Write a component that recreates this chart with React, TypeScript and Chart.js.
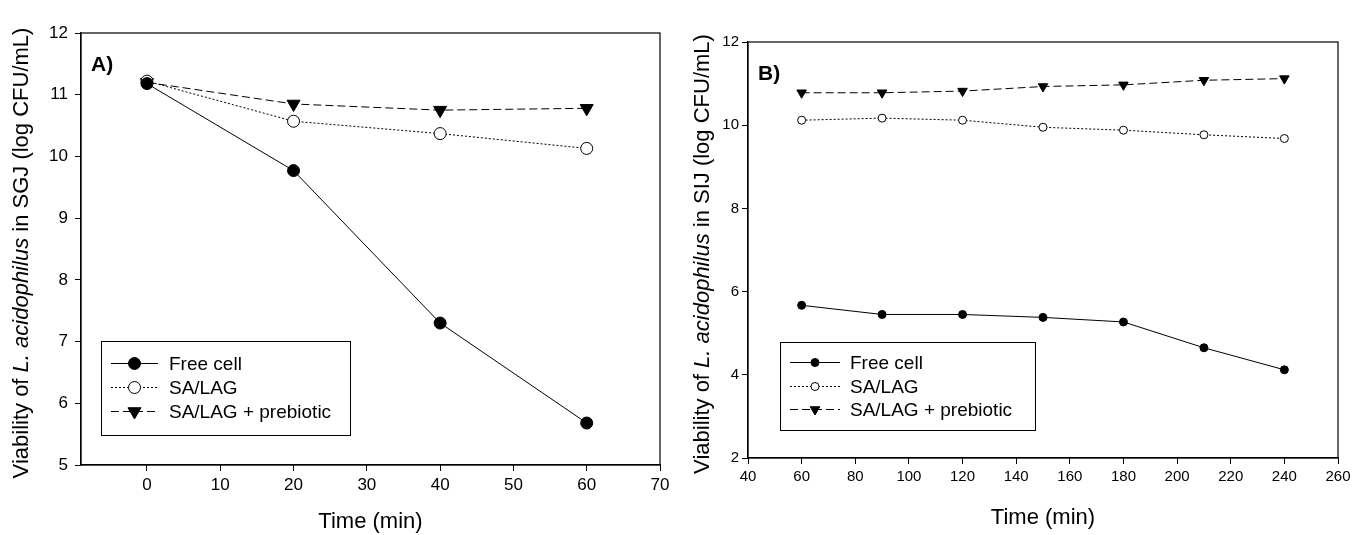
import React, { useEffect, useRef } from "react";
import { Chart, registerables } from "chart.js";

Chart.register(...registerables);

// ---------- data ----------
const seriesNames = ["Free cell", "SA/LAG", "SA/LAG + prebiotic"];

const timeA = [0, 20, 40, 60];
const freeCellA = [11.18, 9.77, 7.3, 5.68];
const saLagA = [11.22, 10.57, 10.37, 10.13];
const saLagPrebioticA = [11.2, 10.85, 10.75, 10.78];
const xTicksA = [0, 10, 20, 30, 40, 50, 60, 70];
const yTicksA = [5, 6, 7, 8, 9, 10, 11, 12];

const timeB = [60, 90, 120, 150, 180, 210, 240];
const freeCellB = [5.67, 5.45, 5.45, 5.38, 5.27, 4.65, 4.12];
const saLagB = [10.12, 10.17, 10.12, 9.95, 9.88, 9.77, 9.68];
const saLagPrebioticB = [10.78, 10.78, 10.82, 10.93, 10.97, 11.08, 11.12];
const xTicksB = [40, 60, 80, 100, 120, 140, 160, 180, 200, 220, 240, 260];
const yTicksB = [2, 4, 6, 8, 10, 12];

const W = 683;
const H = 535;
const FONT = "'Liberation Sans', Arial, sans-serif";

type Panel = {
  label: string;
  medium: string;
  time: number[];
  values: number[][];
  xTicks: number[];
  yTicks: number[];
  xMin: number;
  xMax: number;
  area: { left: number; right: number; top: number; bottom: number };
  tickSize: number;
  xTickPad: number;
  yTickPad: number;
  xTitlePad: number;
  yTitleX: number;
  radius: number[];
  legend: { x: number; y: number; w: number; h: number; rowGap: number; first: number; lineX0: number; lineX1: number; textX: number };
};

const panels: Panel[] = [
  {
    label: "A)",
    medium: "SGJ",
    time: timeA,
    values: [freeCellA, saLagA, saLagPrebioticA],
    xTicks: xTicksA,
    yTicks: yTicksA,
    xMin: -9,
    xMax: 70,
    area: { left: 81, right: 660, top: 33, bottom: 465 },
    tickSize: 17,
    xTickPad: 4,
    yTickPad: 7,
    xTitlePad: 0,
    yTitleX: 22,
    radius: [6, 6, 7.5],
    legend: { x: 101, y: 341, w: 249, h: 94, rowGap: 24, first: 22, lineX0: 10, lineX1: 57, textX: 68 },
  },
  {
    label: "B)",
    medium: "SIJ",
    time: timeB,
    values: [freeCellB, saLagB, saLagPrebioticB],
    xTicks: xTicksB,
    yTicks: yTicksB,
    xMin: 40,
    xMax: 260,
    area: { left: 65, right: 655, top: 42, bottom: 458 },
    tickSize: 15,
    xTickPad: 4,
    yTickPad: 3,
    xTitlePad: 4,
    yTitleX: 20,
    radius: [4, 4, 5.5],
    legend: { x: 97, y: 342, w: 255, h: 88, rowGap: 23.5, first: 20, lineX0: 10, lineX1: 60, textX: 70 },
  },
];

const dashes = [[], [2, 2], [8, 4]];
const styles = ["circle", "circle", "triangle"];
const fills = ["#000", "#fff", "#000"];

function drawMarker(ctx: CanvasRenderingContext2D, kind: number, x: number, y: number, r: number) {
  ctx.save();
  ctx.setLineDash([]);
  ctx.lineWidth = 1;
  ctx.strokeStyle = "#000";
  ctx.fillStyle = fills[kind];
  ctx.beginPath();
  if (kind === 2) {
    ctx.moveTo(x - r * 0.87, y - r * 0.5);
    ctx.lineTo(x + r * 0.87, y - r * 0.5);
    ctx.lineTo(x, y + r);
    ctx.closePath();
  } else {
    ctx.arc(x, y, r, 0, Math.PI * 2);
  }
  ctx.fill();
  ctx.stroke();
  ctx.restore();
}

function makeDecor(p: Panel) {
  return {
    id: "decor",
    afterDraw(chart: any) {
      const ctx: CanvasRenderingContext2D = chart.ctx;
      const a = chart.chartArea;
      ctx.save();
      // frame
      ctx.strokeStyle = "#000";
      ctx.lineWidth = 1.2;
      ctx.strokeRect(a.left, a.top, a.right - a.left, a.bottom - a.top);
      // panel label
      ctx.fillStyle = "#000";
      ctx.font = `bold 21px ${FONT}`;
      ctx.textBaseline = "middle";
      ctx.textAlign = "left";
      ctx.fillText(p.label, a.left + 10, a.top + 32);
      // y title (mixed italic)
      const parts: [string, string][] = [
        ["Viability of ", `22px ${FONT}`],
        ["L. acidophilus", `italic 22px ${FONT}`],
        [` in ${p.medium} (log CFU/mL)`, `22px ${FONT}`],
      ];
      let total = 0;
      for (const [t, f] of parts) {
        ctx.font = f;
        total += ctx.measureText(t).width;
      }
      ctx.translate(p.yTitleX, (a.top + a.bottom) / 2 + 4);
      ctx.rotate(-Math.PI / 2);
      let cx = -total / 2;
      for (const [t, f] of parts) {
        ctx.font = f;
        ctx.fillText(t, cx, 0);
        cx += ctx.measureText(t).width;
      }
      ctx.restore();
      // legend
      const L = p.legend;
      ctx.save();
      ctx.strokeStyle = "#000";
      ctx.lineWidth = 1;
      ctx.strokeRect(L.x + 0.5, L.y + 0.5, L.w, L.h);
      for (let i = 0; i < 3; i++) {
        const y = Math.round(L.y + L.first + i * L.rowGap) + 0.5;
        const x0 = L.x + L.lineX0;
        const x1 = L.x + L.lineX1;
        ctx.beginPath();
        ctx.setLineDash(dashes[i]);
        ctx.moveTo(x0, y);
        ctx.lineTo(x1, y);
        ctx.stroke();
        drawMarker(ctx, i, (x0 + x1) / 2, y, p.radius[i]);
        ctx.fillStyle = "#000";
        ctx.font = `19px ${FONT}`;
        ctx.textBaseline = "middle";
        ctx.textAlign = "left";
        ctx.fillText(seriesNames[i], L.x + L.textX, y + 1);
      }
      ctx.restore();
    },
  };
}

function PanelChart({ p, left }: { p: Panel; left: number }) {
  const ref = useRef<HTMLCanvasElement | null>(null);
  useEffect(() => {
    if (!ref.current) return;
    const datasets = p.values.map((vals, i) => ({
      label: seriesNames[i],
      data: p.time.map((t, j) => ({ x: t, y: vals[j] })),
      borderColor: "#000",
      borderWidth: 1,
      borderDash: dashes[i],
      backgroundColor: fills[i],
      pointStyle: styles[i] as any,
      pointRotation: i === 2 ? 180 : 0,
      pointRadius: p.radius[i],
      pointBorderColor: "#000",
      pointBorderWidth: 1,
      pointBackgroundColor: fills[i],
      fill: false,
      tension: 0,
    }));
    const tickFont = { family: FONT, size: p.tickSize };
    const chart = new Chart(ref.current, {
      type: "line",
      data: { datasets },
      options: {
        responsive: false,
        animation: false,
        devicePixelRatio: 1,
        layout: {
          padding: { left: 0, top: p.area.top, right: W - p.area.right, bottom: 0 },
        },
        plugins: { legend: { display: false }, tooltip: { enabled: false } },
        scales: {
          x: {
            type: "linear",
            min: p.xMin,
            max: p.xMax,
            afterBuildTicks: (s: any) => {
              s.ticks = p.xTicks.map((v) => ({ value: v }));
            },
            afterFit: (s: any) => {
              s.height = H - p.area.bottom;
            },
            grid: { drawOnChartArea: false, drawTicks: true, tickLength: 6, color: "#000", tickWidth: 1 },
            border: { display: true, color: "#000", width: 1.2 },
            ticks: { color: "#000", font: tickFont, padding: p.xTickPad, maxRotation: 0, autoSkip: false },
            title: {
              display: true,
              text: "Time (min)",
              color: "#000",
              font: { family: FONT, size: 22 },
              padding: { top: 0, bottom: p.xTitlePad },
            },
          },
          y: {
            type: "linear",
            min: p.yTicks[0],
            max: p.yTicks[p.yTicks.length - 1],
            afterBuildTicks: (s: any) => {
              s.ticks = p.yTicks.map((v) => ({ value: v }));
            },
            afterFit: (s: any) => {
              s.width = p.area.left;
            },
            grid: { drawOnChartArea: false, drawTicks: true, tickLength: 6, color: "#000", tickWidth: 1 },
            border: { display: true, color: "#000", width: 1.2 },
            ticks: { color: "#000", font: tickFont, padding: p.yTickPad, autoSkip: false },
          },
        },
      },
      plugins: [makeDecor(p)],
    } as any);
    return () => chart.destroy();
  }, [p]);
  return (
    <canvas
      ref={ref}
      width={W}
      height={H}
      style={{ position: "absolute", left, top: 0, width: W, height: H }}
    />
  );
}

export default function App() {
  return (
    <div style={{ position: "fixed", left: 0, top: 0, width: 1366, height: 535, background: "#fff" }}>
      <PanelChart p={panels[0]} left={0} />
      <PanelChart p={panels[1]} left={683} />
    </div>
  );
}
